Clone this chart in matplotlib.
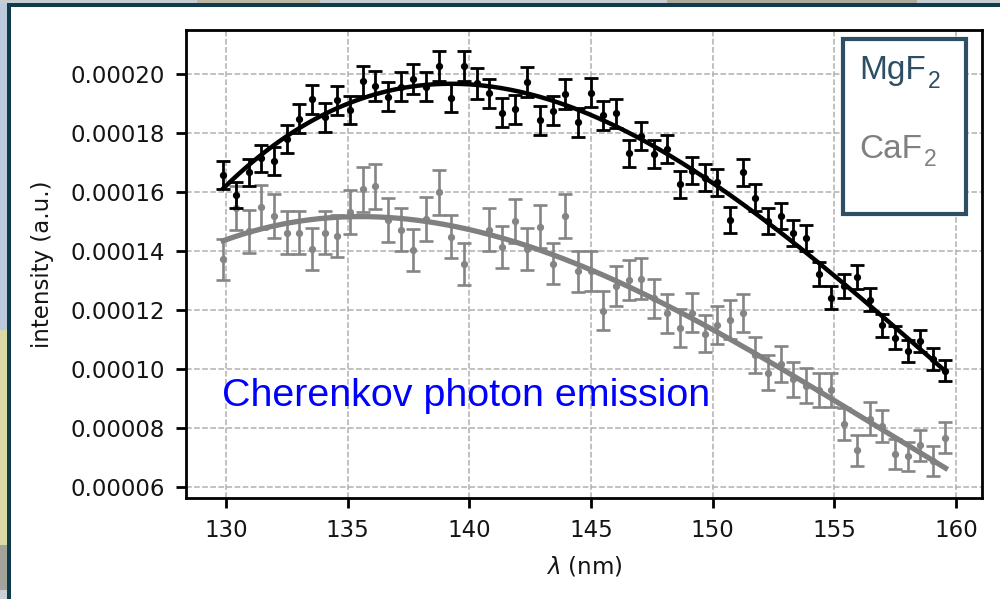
import numpy as np
import matplotlib
matplotlib.use("Agg")
import matplotlib.pyplot as plt
from matplotlib.patches import Rectangle
from matplotlib.ticker import FormatStrFormatter, MultipleLocator

# Wavelength grid (nm)
wavelength = [
    129.89, 130.41, 130.93, 131.45, 131.97, 132.49, 133.01, 133.53, 134.06, 134.58,
    135.10, 135.62, 136.14, 136.66, 137.18, 137.70, 138.22, 138.74, 139.26, 139.78,
    140.30, 140.82, 141.35, 141.87, 142.39, 142.91, 143.43, 143.95, 144.47, 144.99,
    145.51, 146.03, 146.55, 147.07, 147.59, 148.11, 148.64, 149.16, 149.68, 150.20,
    150.72, 151.24, 151.76, 152.28, 152.80, 153.32, 153.84, 154.36, 154.88, 155.40,
    155.93, 156.45, 156.97, 157.49, 158.01, 158.53, 159.05, 159.57,
]

# MgF2 intensity (units of 1e-4 a.u.) and uncertainty (units of 1e-6 a.u.)
mgf2 = [
    1.658, 1.590, 1.667, 1.714, 1.706, 1.779, 1.849, 1.914, 1.853, 1.911,
    1.878, 1.976, 1.960, 1.923, 1.957, 1.982, 1.957, 2.028, 1.920, 2.028,
    1.968, 1.934, 1.869, 1.881, 1.972, 1.843, 1.876, 1.932, 1.836, 1.937,
    1.861, 1.867, 1.731, 1.790, 1.728, 1.746, 1.627, 1.673, 1.649, 1.633,
    1.505, 1.667, 1.581, 1.503, 1.518, 1.462, 1.445, 1.322, 1.243, 1.282,
    1.313, 1.236, 1.149, 1.107, 1.062, 1.096, 1.034, 0.995,
]
mgf2_err = [
    4.6, 4.5, 4.6, 4.7, 4.7, 4.8, 4.9, 5.0, 4.9, 5.0,
    4.9, 5.1, 5.0, 5.0, 5.0, 5.1, 5.0, 5.1, 5.0, 5.1,
    5.1, 5.0, 4.9, 4.9, 5.1, 4.9, 4.9, 5.0, 4.9, 5.0,
    4.9, 4.9, 4.7, 4.8, 4.7, 4.8, 4.6, 4.7, 4.6, 4.6,
    4.4, 4.6, 4.5, 4.4, 4.4, 4.4, 4.3, 4.1, 4.0, 4.1,
    4.1, 4.0, 3.9, 3.8, 3.7, 3.8, 3.7, 3.6,
]

# CaF2 intensity (units of 1e-4 a.u.) and uncertainty (units of 1e-6 a.u.)
caf2 = [
    1.372, 1.547, 1.468, 1.550, 1.520, 1.462, 1.462, 1.406, 1.462, 1.451,
    1.533, 1.610, 1.620, 1.505, 1.473, 1.403, 1.508, 1.599, 1.449, 1.356,
    np.nan, 1.473, 1.415, 1.503, 1.406, 1.482, 1.358, 1.519, 1.332, 1.333,
    1.198, 1.281, 1.302, 1.307, 1.240, 1.189, 1.140, 1.192, 1.121, 1.149,
    1.168, 1.191, 1.047, 0.989, 1.019, 0.966, 0.945, 0.929, 0.929, 0.816,
    0.725, 0.833, 0.808, 0.714, 0.705, 0.742, 0.690, 0.768,
]
caf2_err = [
    7.0, 7.5, 7.3, 7.5, 7.4, 7.3, 7.3, 7.1, 7.3, 7.2,
    7.4, 7.6, 7.6, 7.4, 7.3, 7.1, 7.4, 7.6, 7.2, 7.0,
    np.nan, 7.3, 7.1, 7.4, 7.1, 7.3, 7.0, 7.4, 6.9, 6.9,
    6.6, 6.8, 6.8, 6.9, 6.7, 6.5, 6.4, 6.6, 6.4, 6.4,
    6.5, 6.5, 6.1, 6.0, 6.1, 5.9, 5.8, 5.8, 5.8, 5.4,
    5.1, 5.5, 5.4, 5.1, 5.0, 5.2, 5.0, 5.3,
]

W, H = 1000, 599
fig = plt.figure(figsize=(W / 100, H / 100), dpi=100)
fig.patch.set_facecolor("white")


def px_rect(x0, y0, x1, y1, color, z=0):
    """Rectangle given in pixel coordinates with origin at top-left."""
    fig.add_artist(Rectangle((x0 / W, 1 - y1 / H), (x1 - x0) / W, (y1 - y0) / H,
                             transform=fig.transFigure, facecolor=color,
                             edgecolor="none", zorder=z))


# slide backdrop peeking out around the frame
px_rect(0, 0, 8, 330, "#bccadb")
px_rect(0, 330, 8, 545, "#d9d8a6")
px_rect(0, 545, 8, 590, "#a3a39a")
px_rect(0, 590, 8, 599, "#c9d0d6")
px_rect(0, 0, W, 3.5, "#c8cdd2")
px_rect(197, 0, 320, 3.5, "#bdb7a4")
px_rect(667, 0, 917, 3.5, "#aeaa9c")
# dark frame
px_rect(7, 3, 10.5, H, "#0f3b4d", z=1)
px_rect(7, 3, W, 6.5, "#0f3b4d", z=1)

ax = fig.add_axes([186 / W, 1 - 498 / H, 796 / W, 468 / H])

x = np.array(wavelength)
y_mg = np.array(mgf2) * 1e-4
e_mg = np.array(mgf2_err) * 1e-6
y_ca = np.array(caf2) * 1e-4
e_ca = np.array(caf2_err) * 1e-6

ax.errorbar(x, y_ca, yerr=e_ca, fmt="o", color="#858585", ms=4.2,
            elinewidth=1.9, capsize=5, capthick=1.9, zorder=3)
ax.errorbar(x, y_mg, yerr=e_mg, fmt="o", color="black", ms=4.2,
            elinewidth=2.0, capsize=5, capthick=2.0, zorder=4)

# smooth cubic fits through each series
xf = np.linspace(x[0], x[-1], 300)
ok = ~np.isnan(y_ca)
c_ca = np.polyfit(x[ok] - 145, y_ca[ok], 3)
c_mg = np.polyfit(x - 145, y_mg, 3)
ax.plot(xf, np.polyval(c_ca, xf - 145), color="#808080", lw=3.8, zorder=5)
ax.plot(xf, np.polyval(c_mg, xf - 145), color="black", lw=3.2, zorder=6)

ax.set_xlim(128.36, 161.07)
ax.set_ylim(5.64e-5, 2.149e-4)
ax.xaxis.set_major_locator(MultipleLocator(5))
ax.yaxis.set_major_locator(MultipleLocator(2e-5))
ax.yaxis.set_major_formatter(FormatStrFormatter("%.5f"))

ax.grid(True, linestyle="--", color="#b0b0b0", lw=1.1)
ax.set_axisbelow(True)
for s in ax.spines.values():
    s.set_linewidth(2.0)
ax.tick_params(axis="both", length=7, width=2.0, labelsize=16.5, pad=8,
               labelcolor="#141414")

ax.set_xlabel(r"$\lambda$ (nm)", fontsize=16.5, labelpad=9, color="#141414")
ax.set_ylabel("intensity (a.u.)", fontsize=16.5, labelpad=12, color="#141414")

fig.text(222 / W, 1 - 406 / H, "Cherenkov photon emission", color="#0000ff",
         fontsize=28.4, family="Liberation Sans", va="baseline", ha="left",
         zorder=10)

# label box
px_rect(840.7, 37.7, 967.7, 216, "white", z=8)
fig.add_artist(Rectangle((842.5 / W, 1 - 214 / H), 123.5 / W, 174.5 / H,
                         transform=fig.transFigure, facecolor="none",
                         edgecolor="#2e4f63", lw=3.0, zorder=9))

fig.canvas.draw()
renderer = fig.canvas.get_renderer()
for name, col, base in (("MgF", "#2e4f63", 79.5), ("CaF", "#808080", 157.5)):
    t = fig.text(859 / W, 1 - base / H, name, color=col, fontsize=24,
                 family="Liberation Sans", va="baseline", ha="left", zorder=10)
    bb = t.get_window_extent(renderer)
    fig.text((bb.x1 + 2) / W, 1 - (base + 8) / H, "2", color=col, fontsize=16.5,
             family="Liberation Sans", va="baseline", ha="left", zorder=10)

fig.savefig("out.png", dpi=100)
